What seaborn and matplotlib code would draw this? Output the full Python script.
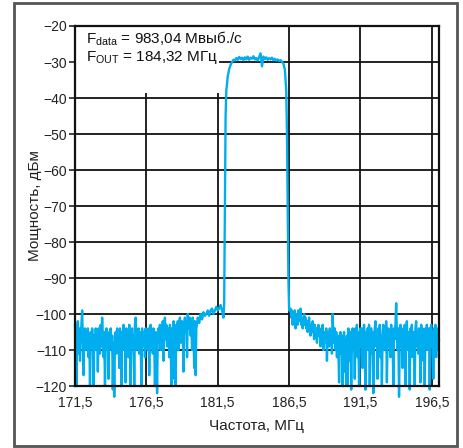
import numpy as np
import pandas as pd
import matplotlib
matplotlib.use("Agg")
import matplotlib.pyplot as plt
import seaborn as sns
from matplotlib.patches import Rectangle

# -----------------------------
# Data
# -----------------------------
# noise floor left of the carrier, 171.5 .. 180.0 MHz, 0.05 MHz step
noise_left_db = [
    -103, -108, -120, -104, -102, -111, -104, -113, -106, -103,
    -99, -107, -117, -105, -104, -110, -106, -108, -104, -112,
    -106, -120, -105, -109, -104, -107, -120, -106, -110, -104,
    -108, -105, -116, -104, -107, -111, -103, -109, -101, -106,
    -112, -105, -120, -107, -104, -110, -106, -118, -105, -108,
    -104, -110, -106, -121, -108, -123, -106, -105, -111, -104,
    -109, -106, -115, -104, -107, -120, -105, -110, -103, -108,
    -106, -119, -104, -108, -105, -112, -103, -107, -120, -106,
    -104, -109, -106, -120, -103, -101, -110, -105, -108, -104,
    -111, -105, -107, -120, -104, -109, -106, -105, -112, -104,
    -108, -105, -110, -104, -117, -106, -103, -109, -105, -111,
    -104, -107, -120, -105, -109, -122, -106, -104, -108, -103,
    -110, -105, -106, -102, -113, -104, -101, -107, -103, -109,
    -105, -104, -112, -103, -106, -120, -104, -108, -102, -118,
    -104, -120, -103, -107, -102, -110, -104, -101, -108, -103,
    -102, -106, -116, -103, -101, -105, -102, -112, -100, -104,
    -103, -101, -106, -102, -110, -101, -104, -115, -102, -117,
    -104,
]
# left shoulder, 180.1 .. 181.9 MHz
shoulder_left_db = [
    -101, -102.5, -100, -101.5, -99.5, -100.5, -100, -99, -100.5, -99,
    -98.5, -100, -99, -98, -99, -98.5, -97.5, -99, -101,
]
# rising edge
edge_left_mhz = [181.95, 182.0, 182.05, 182.1, 182.2, 182.3, 182.4, 182.5, 182.6]
edge_left_db = [-97, -70, -45, -38, -34, -32, -30.8, -30.0, -29.4]
# flat top, 182.7 .. 186.0 MHz
top_db = [
    -29.6, -28.9, -29.4, -28.6, -29.2, -28.8, -29.5, -28.7, -29.3, -28.5,
    -29.4, -28.8, -29.1, -28.4, -29.3, -28.9, -29.6, -28.6, -27.6, -31.2,
    -28.5, -29.2, -28.7, -29.4, -28.9, -29.3, -28.8, -29.5, -29.1, -29.6,
    -29.3, -29.7, -29.5, -29.9,
]
# falling edge
edge_right_mhz = [186.1, 186.2, 186.3, 186.35, 186.4, 186.45, 186.5]
edge_right_db = [-30.5, -32, -38, -50, -70, -90, -99]
# right shoulder, 186.6 .. 190.5 MHz
shoulder_right_db = [
    -98.5, -101, -99, -103, -100, -102, -99, -104, -101, -100,
    -103, -99, -102, -100, -98.5, -103, -101, -104, -102, -100,
    -103, -101, -104, -102, -105, -103, -101, -104, -106, -103,
    -105, -102, -104, -107, -103, -106, -104, -108, -105, -103,
    -106, -104, -109, -105, -107, -103, -110, -106, -105, -108,
    -104, -113, -106, -105, -109, -104, -107, -105, -111, -100,
    -106, -108, -104, -110, -105, -112, -106, -109, -119, -107,
    -105, -111, -106, -120, -108, -105, -116, -107, -120,
]
# noise floor right of the carrier, 190.55 .. 197.0 MHz
noise_right_db = [
    -106, -120, -104, -109, -113, -105, -121, -107, -104, -110,
    -106, -118, -104, -108, -103, -112, -105, -120, -106, -104,
    -109, -104, -115, -106, -103, -108, -121, -105, -110, -104,
    -107, -103, -120, -106, -104, -111, -105, -122, -107, -104,
    -102, -109, -105, -118, -104, -107, -103, -112, -106, -120,
    -105, -103, -110, -104, -108, -102, -119, -106, -104, -109,
    -105, -112, -103, -108, -106, -120, -104, -107, -103, -97,
    -106, -110, -104, -123, -107, -103, -109, -105, -115, -104,
    -108, -103, -120, -106, -102, -110, -105, -107, -121, -104,
    -106, -103, -112, -105, -108, -120, -104, -102, -109, -105,
    -111, -104, -107, -119, -103, -106, -104, -113, -105, -120,
    -104, -108, -103, -110, -106, -104, -121, -105, -103, -109,
    -105, -118, -104, -107, -103, -112, -106, -104, -110, -107,
]

x_ticks = [171.5, 176.5, 181.5, 186.5, 191.5, 196.5]
x_ticklabels = ["171,5", "176,5", "181,5", "186,5", "191,5", "196,5"]
y_ticks = [-120, -110, -100, -90, -80, -70, -60, -50, -40, -30, -20]
y_ticklabels = ["\u2212" + str(abs(v)) for v in y_ticks]

freq = np.concatenate([
    np.linspace(171.5, 180.0, len(noise_left_db)),
    np.linspace(180.1, 181.9, len(shoulder_left_db)),
    edge_left_mhz,
    np.linspace(182.7, 186.0, len(top_db)),
    edge_right_mhz,
    np.linspace(186.6, 190.5, len(shoulder_right_db)),
    np.linspace(190.55, 197.0, len(noise_right_db)),
])
power = np.concatenate([noise_left_db, shoulder_left_db, edge_left_db, top_db,
                        edge_right_db, shoulder_right_db, noise_right_db])
df = pd.DataFrame({"freq": freq, "power": power})

# -----------------------------
# Plot
# -----------------------------
sns.set_theme(style="white")
plt.rcParams["font.family"] = ["Liberation Sans", "DejaVu Sans"]
plt.rcParams["mathtext.fontset"] = "custom"
plt.rcParams["mathtext.rm"] = "Liberation Sans"
plt.rcParams["mathtext.it"] = "Liberation Sans"

fig = plt.figure(figsize=(4.64, 4.48), dpi=100)
ax = fig.add_axes([75 / 464, 62 / 448, 364 / 464, 360 / 448])

sns.lineplot(data=df, x="freq", y="power", color="#00AEEF", linewidth=1.7,
             ax=ax, clip_on=False, zorder=6)

ax.set_xlim(171.5, 197.0)
ax.set_ylim(-120, -20)
ax.set_xticks(x_ticks)
ax.set_xticklabels(x_ticklabels)
ax.set_yticks(y_ticks)
ax.set_yticklabels(y_ticklabels)
ax.tick_params(axis="x", length=0, pad=7, labelsize=10, colors="#222222")
ax.tick_params(axis="y", length=4, width=1.2, direction="out", pad=2,
               labelsize=10, colors="#222222", left=True)
ax.grid(True, color="#111111", linewidth=1.3)
for s in ax.spines.values():
    s.set_color("#111111")
    s.set_linewidth(1.6)
    s.set_zorder(7)

ax.set_xlabel("Частота, МГц", fontsize=11, labelpad=7, color="#222222")
ax.set_ylabel("Мощность, дБм", fontsize=11, labelpad=-5, color="#222222")

# white patch behind the annotation hides the grid there
ax.add_patch(Rectangle((171.5, -38.5), 10.1, 18.5, facecolor="white",
                       edgecolor="none", zorder=4))
ax.add_patch(Rectangle((181.6, -27.2), 2.3, 7.2, facecolor="white",
                       edgecolor="none", zorder=4))
ax.text(172.3, -21.0,
        "F$_{\\mathrm{data}}$ = 983,04 Мвыб./с\nF$_{\\mathrm{OUT}}$ = 184,32 МГц",
        fontsize=11, va="top", ha="left", color="#111111", linespacing=1.05,
        zorder=5)

# outer frame
fig.patches.append(Rectangle((14 / 464, 2 / 448), 443 / 464, 443 / 448,
                             transform=fig.transFigure, fill=False,
                             edgecolor="#555555", linewidth=2))

fig.savefig("out.png", dpi=100)
